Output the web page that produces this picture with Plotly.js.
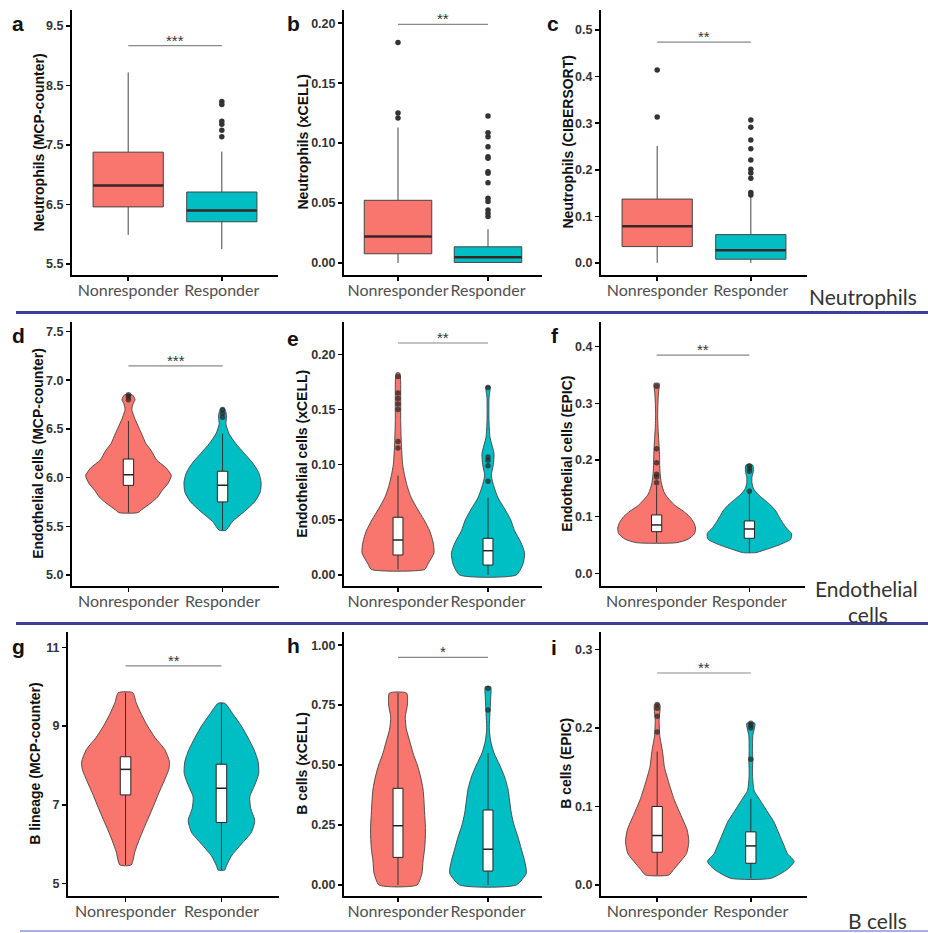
<!DOCTYPE html>
<html><head><meta charset="utf-8">
<script src="https://cdn.plot.ly/plotly-3.0.1.min.js"></script>
<style>html,body{margin:0;padding:0;background:#fff}</style>
</head><body><div id="chart" style="width:928px;height:933px"></div>
<script>
// ---------------- DATA ----------------
const categories = ['Nonresponder', 'Responder'];
const panelLetters = ['a','b','c','d','e','f','g','h','i'];
const yTitles = ['Neutrophils (MCP-counter)','Neutrophils (xCELL)','Neutrophils (CIBERSORT)',
  'Endothelial cells (MCP-counter)','Endothelial cells (xCELL)','Endothelial cells (EPIC)',
  'B lineage (MCP-counter)','B cells (xCELL)','B cells (EPIC)'];
const rowLabels = ['Neutrophils', 'Endothelial', 'cells', 'B cells'];

// y tick labels per panel
const a_ticks = [5.5, 6.5, 7.5, 8.5, 9.5];      const a_tickText = ['5.5','6.5','7.5','8.5','9.5'];
const b_ticks = [0, 0.05, 0.10, 0.15, 0.20];    const b_tickText = ['0.00','0.05','0.10','0.15','0.20'];
const c_ticks = [0, 0.1, 0.2, 0.3, 0.4, 0.5];   const c_tickText = ['0.0','0.1','0.2','0.3','0.4','0.5'];
const d_ticks = [5.0, 5.5, 6.0, 6.5, 7.0, 7.5]; const d_tickText = ['5.0','5.5','6.0','6.5','7.0','7.5'];
const e_ticks = [0, 0.05, 0.10, 0.15, 0.20];    const e_tickText = ['0.00','0.05','0.10','0.15','0.20'];
const f_ticks = [0, 0.1, 0.2, 0.3, 0.4];        const f_tickText = ['0.0','0.1','0.2','0.3','0.4'];
const g_ticks = [5, 7, 9, 11];                  const g_tickText = ['5','7','9','11'];
const h_ticks = [0, 0.25, 0.5, 0.75, 1.0];      const h_tickText = ['0.00','0.25','0.50','0.75','1.00'];
const i_ticks = [0, 0.1, 0.2, 0.3];             const i_tickText = ['0.0','0.1','0.2','0.3'];

// significance bar levels and labels
const sigLevel = [9.17, 0.199, 0.474, 7.147, 0.2103, 0.385, 10.53, 0.949, 0.270];
const sigStars = ['***','**','**','***','**','**','**','*','**'];

// box statistics [Nonresponder, Responder]
const a_q1 = [6.46, 6.21];   const a_med = [6.82, 6.40];   const a_q3 = [7.38, 6.71];   const a_lo = [5.99, 5.75];   const a_hi = [8.72, 7.39];
const a_out0 = [];           const a_out1 = [8.23, 8.18, 7.90, 7.85, 7.75, 7.64];
const b_q1 = [0.0077, 0.0005]; const b_med = [0.0221, 0.0047]; const b_q3 = [0.0523, 0.0135]; const b_lo = [0, 0]; const b_hi = [0.113, 0.0282];
const b_out0 = [0.184, 0.125, 0.121];
const b_out1 = [0.1227, 0.1086, 0.1053, 0.0970, 0.0886, 0.0873, 0.0762, 0.0748, 0.0670, 0.0540, 0.0512, 0.0443, 0.0416, 0.0388];
const c_q1 = [0.035, 0.0079]; const c_med = [0.0786, 0.027]; const c_q3 = [0.137, 0.0607]; const c_lo = [0, 0]; const c_hi = [0.251, 0.142];
const c_out0 = [0.414, 0.313];
const c_out1 = [0.307, 0.291, 0.264, 0.245, 0.221, 0.201, 0.193, 0.182, 0.151, 0.146];

const d_q1 = [5.92, 5.75];   const d_med = [6.03, 5.92];   const d_q3 = [6.19, 6.065];  const d_lo = [5.64, 5.46];   const d_hi = [6.58, 6.45];
const d_out0 = [6.80, 6.83, 6.85]; const d_out1 = [6.62, 6.66, 6.70];
const e_q1 = [0.0181, 0.009]; const e_med = [0.0317, 0.022]; const e_q3 = [0.0523, 0.0332]; const e_lo = [0.005, 0]; const e_hi = [0.09, 0.07];
const e_out0 = [0.115, 0.121, 0.150, 0.155, 0.160, 0.165, 0.180]; const e_out1 = [0.085, 0.099, 0.104, 0.107, 0.170];
const f_q1 = [0.0735, 0.0618]; const f_med = [0.0853, 0.0782]; const f_q3 = [0.103, 0.0924]; const f_lo = [0.054, 0.0365]; const f_hi = [0.155, 0.14];
const f_out0 = [0.16, 0.17, 0.175, 0.195, 0.22, 0.33]; const f_out1 = [0.145, 0.18, 0.185, 0.19];
const g_q1 = [7.25, 6.55];   const g_med = [7.90, 7.42];   const g_q3 = [8.22, 8.03];   const g_lo = [5.47, 5.34];   const g_hi = [9.85, 9.58];
const g_out0 = []; const g_out1 = [];
const h_q1 = [0.115, 0.058]; const h_med = [0.247, 0.149]; const h_q3 = [0.403, 0.3125]; const h_lo = [0, 0]; const h_hi = [0.80, 0.55];
const h_out0 = []; const h_out1 = [0.73, 0.82];
const i_q1 = [0.0417, 0.0277]; const i_med = [0.063, 0.0498]; const i_q3 = [0.10, 0.0677]; const i_lo = [0.0128, 0.0085]; const i_hi = [0.17, 0.11];
const i_out0 = [0.195, 0.215, 0.225, 0.23]; const i_out1 = [0.16, 0.20, 0.203, 0.206];

// violin density profiles: value levels and half-widths (category units)
const d_lv0 = [5.64, 5.67, 5.74, 5.80, 5.87, 5.94, 6.02, 6.10, 6.18, 6.28, 6.35, 6.45, 6.52, 6.60, 6.70, 6.76, 6.80, 6.85];
const d_hw0 = [0.10, 0.14, 0.24, 0.31, 0.36, 0.42, 0.455, 0.40, 0.30, 0.24, 0.185, 0.14, 0.107, 0.07, 0.036, 0.05, 0.07, 0.04];
const d_lv1 = [5.46, 5.55, 5.65, 5.75, 5.85, 5.95, 6.05, 6.15, 6.25, 6.35, 6.45, 6.55, 6.62, 6.67, 6.71];
const d_hw1 = [0.036, 0.107, 0.23, 0.34, 0.40, 0.41, 0.385, 0.32, 0.23, 0.14, 0.07, 0.036, 0.043, 0.036, 0.018];
const e_lv0 = [0.005, 0.01, 0.02, 0.03, 0.04, 0.05, 0.06, 0.07, 0.08, 0.09, 0.10, 0.12, 0.14, 0.16, 0.183];
const e_hw0 = [0.296, 0.333, 0.40, 0.389, 0.352, 0.289, 0.215, 0.148, 0.104, 0.074, 0.052, 0.037, 0.03, 0.03, 0.019];
const e_lv1 = [0.0, 0.01, 0.02, 0.03, 0.04, 0.05, 0.06, 0.07, 0.08, 0.09, 0.10, 0.11, 0.125, 0.14, 0.16, 0.171];
const e_hw1 = [0.315, 0.389, 0.407, 0.363, 0.296, 0.252, 0.185, 0.111, 0.067, 0.037, 0.059, 0.067, 0.022, 0.011, 0.011, 0.022];
const f_lv0 = [0.054, 0.06, 0.07, 0.08, 0.09, 0.10, 0.11, 0.12, 0.14, 0.16, 0.18, 0.20, 0.22, 0.24, 0.26, 0.28, 0.30, 0.32, 0.335];
const f_hw0 = [0.214, 0.338, 0.409, 0.42, 0.399, 0.356, 0.285, 0.196, 0.089, 0.05, 0.036, 0.032, 0.028, 0.021, 0.014, 0.011, 0.014, 0.021, 0.028];
const f_lv1 = [0.0365, 0.04, 0.05, 0.06, 0.07, 0.08, 0.09, 0.10, 0.11, 0.12, 0.13, 0.14, 0.15, 0.16, 0.17, 0.18, 0.191];
const f_hw1 = [0.071, 0.142, 0.32, 0.445, 0.455, 0.399, 0.356, 0.32, 0.285, 0.231, 0.16, 0.089, 0.043, 0.028, 0.028, 0.043, 0.036];
const g_lv0 = [5.47, 5.80, 6.09, 6.40, 6.69, 6.99, 7.30, 7.59, 7.90, 8.09, 8.40, 8.70, 9.00, 9.30, 9.60, 9.85];
const g_hw0 = [0.059, 0.097, 0.139, 0.191, 0.243, 0.295, 0.347, 0.40, 0.451, 0.458, 0.41, 0.31, 0.23, 0.165, 0.11, 0.076];
const g_lv1 = [5.34, 5.45, 5.7, 6.0, 6.3, 6.6, 6.9, 7.2, 7.5, 7.8, 8.1, 8.4, 8.7, 9.0, 9.3, 9.58];
const g_hw1 = [0.035, 0.052, 0.104, 0.208, 0.313, 0.347, 0.306, 0.295, 0.347, 0.389, 0.382, 0.34, 0.278, 0.208, 0.122, 0.035];
const h_lv0 = [0.0, 0.05, 0.10, 0.15, 0.20, 0.25, 0.30, 0.35, 0.40, 0.45, 0.50, 0.55, 0.60, 0.65, 0.70, 0.75, 0.80];
const h_hw0 = [0.211, 0.267, 0.278, 0.296, 0.304, 0.304, 0.296, 0.289, 0.278, 0.252, 0.215, 0.167, 0.13, 0.093, 0.081, 0.104, 0.096];
const h_lv1 = [0.0, 0.05, 0.10, 0.15, 0.20, 0.25, 0.30, 0.35, 0.40, 0.45, 0.50, 0.55, 0.60, 0.65, 0.72, 0.78, 0.826];
const h_hw1 = [0.315, 0.426, 0.407, 0.37, 0.333, 0.289, 0.259, 0.241, 0.222, 0.185, 0.13, 0.067, 0.03, 0.015, 0.022, 0.03, 0.03];
const i_lv0 = [0.0128, 0.02, 0.03, 0.04, 0.055, 0.07, 0.09, 0.11, 0.13, 0.15, 0.17, 0.19, 0.21, 0.23];
const i_hw0 = [0.125, 0.178, 0.249, 0.313, 0.338, 0.32, 0.249, 0.178, 0.125, 0.078, 0.057, 0.028, 0.021, 0.028];
const i_lv1 = [0.0085, 0.02, 0.03, 0.04, 0.05, 0.06, 0.07, 0.08, 0.09, 0.10, 0.11, 0.12, 0.14, 0.16, 0.17, 0.19, 0.206];
const i_hw1 = [0.214, 0.391, 0.463, 0.391, 0.356, 0.32, 0.285, 0.249, 0.196, 0.142, 0.089, 0.036, 0.018, 0.021, 0.018, 0.021, 0.043];

// ---------------- ASSEMBLY ----------------
const groupColors = ['#F8766D', '#00BFC4'];
const W = 928, H = 933;
const pxX = x => x / W, pxY = y => 1 - y / H;

const ticks = [[a_ticks,a_tickText],[b_ticks,b_tickText],[c_ticks,c_tickText],[d_ticks,d_tickText],[e_ticks,e_tickText],[f_ticks,f_tickText],[g_ticks,g_tickText],[h_ticks,h_tickText],[i_ticks,i_tickText]];
const stats = [
  [a_q1,a_med,a_q3,a_lo,a_hi,a_out0,a_out1],[b_q1,b_med,b_q3,b_lo,b_hi,b_out0,b_out1],[c_q1,c_med,c_q3,c_lo,c_hi,c_out0,c_out1],
  [d_q1,d_med,d_q3,d_lo,d_hi,d_out0,d_out1],[e_q1,e_med,e_q3,e_lo,e_hi,e_out0,e_out1],[f_q1,f_med,f_q3,f_lo,f_hi,f_out0,f_out1],
  [g_q1,g_med,g_q3,g_lo,g_hi,g_out0,g_out1],[h_q1,h_med,h_q3,h_lo,h_hi,h_out0,h_out1],[i_q1,i_med,i_q3,i_lo,i_hi,i_out0,i_out1]];
const violins = [null,null,null,
  [[d_lv0,d_hw0],[d_lv1,d_hw1]],[[e_lv0,e_hw0],[e_lv1,e_hw1]],[[f_lv0,f_hw0],[f_lv1,f_hw1]],
  [[g_lv0,g_hw0],[g_lv1,g_hw1]],[[h_lv0,h_hw0],[h_lv1,h_hw1]],[[i_lv0,i_hw0],[i_lv1,i_hw1]]];

// layout geometry (pixels)
const yRanges = [[5.315,9.77],[-0.010,0.211],[-0.026,0.543],[4.887,7.60],[-0.010,0.2296],[-0.0224,0.444],[4.68,11.40],[-0.046,1.056],[-0.014,0.3226]];
const rowTop = [10, 321.7, 631.7], rowBot = [275, 586, 896];
const colX = [[[72,278],[344,542],[601,807]],[[72,279],[344,542],[601,805]],[[68,279],[344,542],[601,807]]];
const titleX = [[38,302,567],[38,302,567],[35,302,566]];
const letterPos = [[18,24],[293,24],[553,24],[18,335],[293,338],[555,335],[18,646],[293,645],[554,647]];

const traces = [];
const layout = {
  width: W, height: H, margin: {l:0, r:0, t:0, b:0},
  paper_bgcolor: '#fff', plot_bgcolor: '#fff', showlegend: false,
  annotations: [], shapes: [], hovermode: false
};

for (let k = 0; k < 9; k++) {
  const row = Math.floor(k / 3), col = k % 3;
  const sfx = k === 0 ? '' : String(k + 1);
  const xa = 'x' + sfx, ya = 'y' + sfx;
  const [xl, xr] = colX[row][col];
  layout['xaxis' + sfx] = {
    domain: [pxX(xl), pxX(xr)], anchor: ya, range: [0.4, 2.6],
    tickvals: [1, 2], ticktext: categories, tickangle: 0, showline: true, linecolor: '#000', linewidth: 2,
    ticks: 'outside', ticklen: 4, tickwidth: 1.5, tickcolor: '#000', showgrid: false, zeroline: false,
    ticklabelstandoff: -4,
    tickfont: {family: 'Lato', size: 16, color: '#505050'}, fixedrange: true
  };
  layout['yaxis' + sfx] = {
    domain: [pxY(rowBot[row]), pxY(rowTop[row])], anchor: xa, range: yRanges[k],
    tickvals: ticks[k][0], ticktext: ticks[k][1], showline: true, linecolor: '#000', linewidth: 2,
    ticks: 'outside', ticklen: 4, tickwidth: 1.5, tickcolor: '#000', showgrid: false, zeroline: false,
    tickfont: {family: 'Liberation Sans, Arial', size: 12.5, color: '#333', weight: 'bold'}, fixedrange: true
  };
  const [q1, med, q3, lo, hi, out0, out1] = stats[k];
  const outs = [out0, out1];
  const isViolin = violins[k] !== null;
  const bw = isViolin ? 0.11 : 0.75;
  for (let g = 0; g < 2; g++) {
    const c = g + 1;
    if (isViolin) {
      const [lv, hw] = violins[k][g];
      const vx = lv.map((v, i) => c + hw[i]).concat(lv.slice().reverse().map((v, i) => c - hw[hw.length - 1 - i]));
      const vy = lv.concat(lv.slice().reverse());
      traces.push({type: 'scatter', mode: 'lines', x: vx.concat([vx[0]]), y: vy.concat([vy[0]]), fill: 'toself',
        fillcolor: groupColors[g], line: {color: 'rgba(60,60,60,0.85)', width: 1, shape: 'spline', smoothing: 0.6},
        xaxis: xa, yaxis: ya, hoverinfo: 'skip'});
      // whiskers
      traces.push({type: 'scatter', mode: 'lines', x: [c, c, null, c, c], y: [lo[g], q1[g], null, q3[g], hi[g]],
        line: {color: '#333', width: 1}, xaxis: xa, yaxis: ya, hoverinfo: 'skip'});
      // inner white box
      traces.push({type: 'scatter', mode: 'lines', x: [c - bw/2, c + bw/2, c + bw/2, c - bw/2, c - bw/2],
        y: [q1[g], q1[g], q3[g], q3[g], q1[g]], fill: 'toself', fillcolor: '#ffffff',
        line: {color: '#222', width: 1}, xaxis: xa, yaxis: ya, hoverinfo: 'skip'});
      traces.push({type: 'scatter', mode: 'lines', x: [c - bw/2, c + bw/2], y: [med[g], med[g]],
        line: {color: '#222', width: 1.5}, xaxis: xa, yaxis: ya, hoverinfo: 'skip'});
    } else {
      traces.push({type: 'box', x: [c], q1: [q1[g]], median: [med[g]], q3: [q3[g]], lowerfence: [lo[g]], upperfence: [hi[g]],
        width: bw, fillcolor: groupColors[g], boxpoints: false,
        line: {color: '#444', width: 1}, whiskerwidth: 0, xaxis: xa, yaxis: ya, hoverinfo: 'skip'});
      traces.push({type: 'scatter', mode: 'lines', x: [c - bw / 2, c + bw / 2], y: [med[g], med[g]],
        line: {color: '#3a2626', width: 2.5}, xaxis: xa, yaxis: ya, hoverinfo: 'skip'});
    }
    if (outs[g].length) {
      traces.push({type: 'scatter', mode: 'markers', x: outs[g].map(() => c), y: outs[g],
        marker: {color: isViolin ? 'rgba(40,40,40,0.75)' : '#333', size: 5.5}, xaxis: xa, yaxis: ya, hoverinfo: 'skip'});
    }
  }
  // significance bar
  traces.push({type: 'scatter', mode: 'lines', x: [1, 2], y: [sigLevel[k], sigLevel[k]],
    line: {color: '#888', width: 1.2}, xaxis: xa, yaxis: ya, hoverinfo: 'skip'});
  layout.annotations.push({x: 1.5, y: sigLevel[k], xref: xa, yref: ya, text: sigStars[k], showarrow: false,
    yanchor: 'bottom', yshift: -5, font: {family: 'Liberation Sans, Arial', size: 15, color: '#333'}});
  // y axis title
  layout.annotations.push({x: pxX(titleX[row][col]), y: pxY((rowTop[row] + rowBot[row]) / 2), xref: 'paper', yref: 'paper',
    text: yTitles[k], textangle: -90, showarrow: false, xanchor: 'center', yanchor: 'middle',
    font: {family: 'Liberation Sans, Arial', size: 14, color: '#111', weight: 'bold'}});
  // panel letter
  layout.annotations.push({x: pxX(letterPos[k][0]), y: pxY(letterPos[k][1]), xref: 'paper', yref: 'paper',
    text: panelLetters[k], showarrow: false, xanchor: 'center', yanchor: 'middle',
    font: {family: 'Liberation Sans, Arial', size: 21, color: '#111', weight: 'bold'}});
}

// row labels
const rowLabelPos = [[863, 297], [866, 588], [868, 614], [877, 920]];
rowLabels.forEach((t, j) => layout.annotations.push({x: pxX(rowLabelPos[j][0]), y: pxY(rowLabelPos[j][1]), xref: 'paper', yref: 'paper',
  text: t, showarrow: false, xanchor: 'center', yanchor: 'middle', font: {family: 'Lato', size: 21, color: '#333'}}));

// separator rules
layout.shapes.push({type: 'line', xref: 'paper', yref: 'paper', x0: pxX(16), x1: 1, y0: pxY(312.5), y1: pxY(312.5), line: {color: '#3c3f96', width: 3}});
layout.shapes.push({type: 'line', xref: 'paper', yref: 'paper', x0: pxX(16), x1: 1, y0: pxY(623.5), y1: pxY(623.5), line: {color: '#3c3f96', width: 3}});
layout.shapes.push({type: 'line', xref: 'paper', yref: 'paper', x0: pxX(20), x1: 1, y0: pxY(931), y1: pxY(931), line: {color: '#8f93d6', width: 1.5}});

Plotly.newPlot('chart', traces, layout, {displayModeBar: false, staticPlot: true});
</script></body></html>
